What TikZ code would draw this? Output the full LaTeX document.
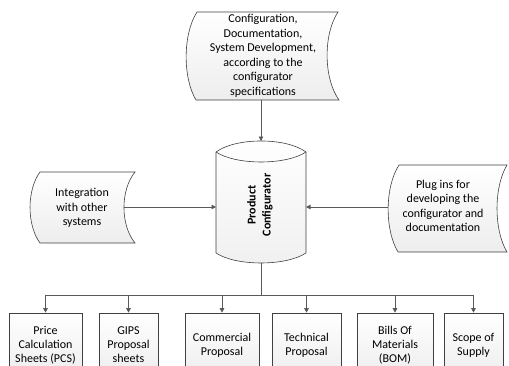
\documentclass[tikz,border=0pt]{standalone}
\usepackage{fontspec}
\setmainfont{Carlito}
\usetikzlibrary{arrows.meta}
\definecolor{edge}{HTML}{404040}
\definecolor{conn}{HTML}{5A5A5A}
\begin{document}
\begin{tikzpicture}[x=1pt,y=-1pt,
  shapefill/.style={top color=white,bottom color=gray!14,draw=edge,line width=0.6pt},
  lbl/.style={align=center,font=\fontsize{12}{14.5}\selectfont,inner sep=0pt},
  outbox/.style={draw=edge,line width=0.6pt,top color=white,bottom color=gray!14,
     minimum height=64pt,inner sep=1pt,align=center,font=\fontsize{12}{14}\selectfont},
  conline/.style={draw=conn,line width=0.7pt},
  arr/.style={conline,-{Triangle[length=4.5pt,width=4.5pt]}}]
\clip (0,0) rectangle (509,365);
\useasboundingbox (0,0) rectangle (509,365);
% top stored-data shape
\path[shapefill] (197,12) -- (338,12)
  .. controls (323.3,34) and (323.3,78) .. (339,100) -- (196,100)
  .. controls (182.7,78) and (182.7,34) .. (197,12) -- cycle;
\node[lbl] (top) at (263,56) {Configuration,\\Documentation,\\System Development,\\according to the\\configurator\\specifications};
\coordinate (topB) at (261,100);
% left shape
\path[shapefill] (40,172) -- (135,172)
  .. controls (120.3,190) and (120.3,225) .. (135,243) -- (40,243)
  .. controls (26.7,225) and (26.7,190) .. (40,172) -- cycle;
\node[lbl] (left) at (82,208) {Integration\\with other\\systems};
\coordinate (leftE) at (124,207);
% right shape
\path[shapefill] (399,165) -- (507,165)
  .. controls (493.7,187) and (493.7,230) .. (507,252) -- (398,252)
  .. controls (384.7,230) and (384.7,187) .. (399,165) -- cycle;
\node[lbl] (right) at (443,206) {Plug ins for\\developing the\\configurator and\\documentation};
\coordinate (rightW) at (388,207);
% cylinder
\path[top color=white,bottom color=gray!12,draw=edge,line width=0.6pt]
  (216,152) .. controls (236,137.3) and (286,137.3) .. (306,152)
  -- (306,253) .. controls (286,266.3) and (236,266.3) .. (216,253) -- cycle;
\draw[edge,line width=0.6pt] (216,152) .. controls (236,165.3) and (286,165.3) .. (306,152);
\node[lbl,font=\fontsize{12}{15}\bfseries\selectfont,rotate=90] (cyl) at (260,205) {Product\\Configurator};
\coordinate (cylT) at (261,141);
\coordinate (cylL) at (216,207);
\coordinate (cylR) at (306,207);
\coordinate (cylB) at (261,263);
\coordinate (bus) at (261,295);
% output boxes
\node[outbox,minimum width=73pt] (b1) at (45.5,345) {Price\\Calculation\\Sheets (PCS)};
\node[outbox,minimum width=59pt] (b2) at (128.5,345) {GIPS\\Proposal\\sheets};
\node[outbox,minimum width=74pt] (b3) at (222,345) {Commercial\\Proposal};
\node[outbox,minimum width=69pt] (b4) at (306.5,345) {Technical\\Proposal};
\node[outbox,minimum width=76pt] (b5) at (395,345) {Bills Of\\Materials\\(BOM)};
\node[outbox,minimum width=59pt] (b6) at (473.5,345) {Scope of\\Supply};
% connectors
\draw[arr] (topB) -- (cylT);
\draw[arr] (leftE) -- (cylL);
\draw[arr] (rightW) -- (cylR);
\draw[conline] (cylB) -- (bus);
\foreach \b in {b1,b2,b3,b4,b5,b6} \draw[arr] (bus) -| (\b.north);
\end{tikzpicture}
\end{document}
